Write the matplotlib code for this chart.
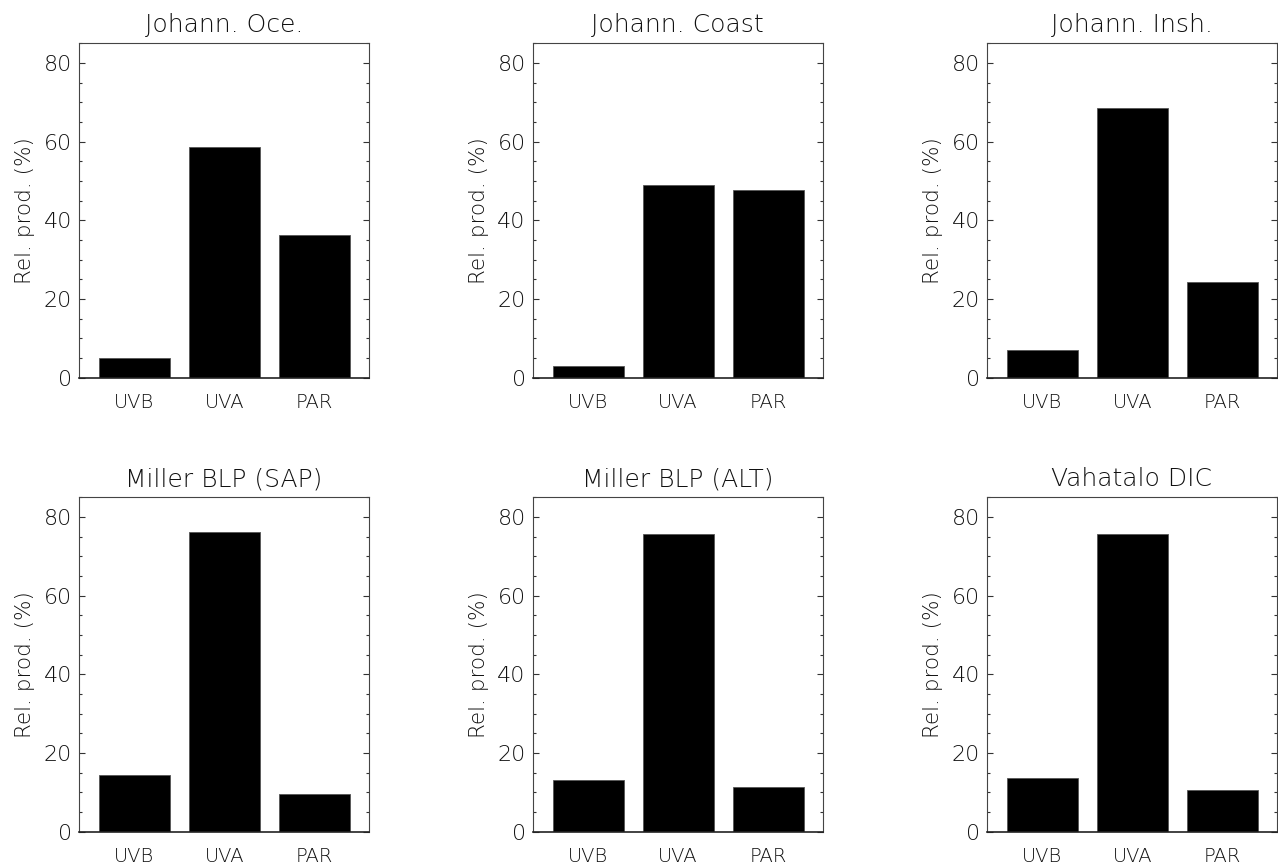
import matplotlib
matplotlib.use("Agg")
import matplotlib.pyplot as plt
from matplotlib.ticker import MultipleLocator

plt.rcParams["font.family"] = ["DejaVu Sans"]

bands = ["UVB", "UVA", "PAR"]

titles = [
    "Johann. Oce.", "Johann. Coast", "Johann. Insh.",
    "Miller BLP (SAP)", "Miller BLP (ALT)", "Vahatalo DIC",
]

johann_oce = [4.9, 58.7, 36.4]
johann_coast = [3.0, 49.0, 47.8]
johann_insh = [7.0, 68.5, 24.3]
miller_sap = [14.4, 76.1, 9.6]
miller_alt = [13.1, 75.7, 11.4]
vahatalo_dic = [13.7, 75.8, 10.7]

series = [johann_oce, johann_coast, johann_insh,
          miller_sap, miller_alt, vahatalo_dic]

fig = plt.figure(figsize=(12.78, 8.67), dpi=100)

lefts = [0.0618, 0.4168, 0.7721]
bottoms = [0.5644, 0.0407]
w, h = 0.2269, 0.3855
ink = "#111111"

for i, (title, vals) in enumerate(zip(titles, series)):
    ax = fig.add_axes([lefts[i % 3], bottoms[i // 3], w, h])
    x = list(range(len(bands)))
    ax.bar(x, vals, width=0.79, color="black", edgecolor="#555555", linewidth=0.6)
    ax.set_xlim(-0.617, 2.606)
    ax.set_ylim(0, 85)
    ax.set_xticks(x)
    ax.set_xticklabels(bands)
    ax.yaxis.set_major_locator(MultipleLocator(20))
    ax.yaxis.set_minor_locator(MultipleLocator(5))
    ax.tick_params(axis="y", which="both", direction="in", left=True, right=True,
                   labelsize=16, pad=5, color="#333333")
    ax.tick_params(axis="y", which="major", length=4.5, width=0.8)
    ax.tick_params(axis="y", which="minor", length=2.5, width=0.8)
    ax.tick_params(axis="x", length=0, labelsize=14, pad=11)
    for lab in ax.get_xticklabels() + ax.get_yticklabels():
        lab.set_fontweight("light")
        lab.set_color(ink)
    for side in ["left", "right", "top"]:
        ax.spines[side].set_linewidth(0.8)
        ax.spines[side].set_color("#444444")
    ax.spines["bottom"].set_linewidth(1.2)
    ax.spines["bottom"].set_color("#222222")
    ax.set_ylabel("Rel. prod. (%)", fontsize=15.5, fontweight="light",
                  color=ink, labelpad=6)
    ax.set_title(title, fontsize=18, fontweight="light", color=ink, pad=8)

fig.savefig("out.png", dpi=100)
